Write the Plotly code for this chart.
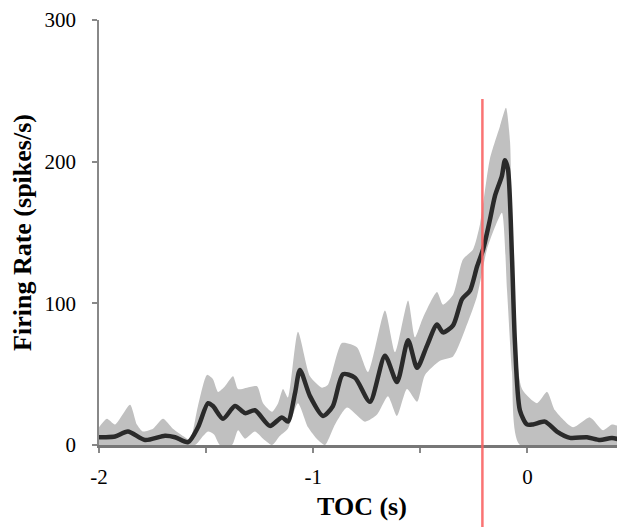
import plotly.graph_objects as go

# Mean firing rate (spikes/s) vs time to TOC (s)
mean_t = [-2.0, -1.972, -1.925, -1.865, -1.785, -1.692, -1.645, -1.584, -1.538, -1.491,
          -1.468, -1.421, -1.365, -1.318, -1.272, -1.202, -1.146, -1.118, -1.085, -1.062,
          -1.015, -0.954, -0.908, -0.861, -0.805, -0.735, -0.665, -0.609, -0.557, -0.515,
          -0.469, -0.422, -0.394, -0.347, -0.305, -0.268, -0.235, -0.207, -0.175, -0.151,
          -0.119, -0.105, -0.091, -0.072, -0.058, -0.035, -0.002, 0.026, 0.082, 0.138,
          0.199, 0.278, 0.339, 0.395, 0.446]
mean_rate = [5.5, 5.5, 6, 9.5, 3.5, 6.5, 5.5, 2, 12.5, 29.5,
             27.5, 18.5, 27.5, 22.5, 24.5, 13.5, 19.5, 16.5, 36.5, 53,
             34.5, 20.5, 27.5, 50, 47.5, 30.5, 63, 44.5, 74, 54.5,
             70, 85, 79.5, 84.5, 103, 109, 126, 138, 159, 176,
             190, 201, 195, 133, 72, 24.5, 14.5, 14.5, 16.5, 9.5,
             5, 5.5, 3.5, 5, 3]

# Upper edge of the shaded band
upper_t = [-2.0, -1.963, -1.925, -1.855, -1.823, -1.795, -1.748, -1.701, -1.655, -1.599,
           -1.575, -1.538, -1.496, -1.468, -1.444, -1.412, -1.374, -1.351, -1.309, -1.262,
           -1.234, -1.192, -1.164, -1.141, -1.118, -1.071, -1.015, -0.959, -0.931, -0.866,
           -0.796, -0.744, -0.665, -0.618, -0.557, -0.525, -0.487, -0.422, -0.394, -0.347,
           -0.301, -0.254, -0.221, -0.175, -0.128, -0.100, -0.081, -0.067, -0.025, 0.045,
           0.092, 0.129, 0.213, 0.292, 0.353, 0.395, 0.446]
upper_rate = [12.5, 18.5, 14.5, 28.5, 14.5, 9.5, 11.5, 18.5, 11.5, 5.5,
              3.5, 27.5, 49.5, 46.5, 37.5, 41.5, 48.5, 39.5, 40.5, 41.5,
              29.5, 23.5, 29.5, 39.5, 33.5, 80, 48.5, 40.5, 42.5, 72,
              69, 51.5, 95, 65.5, 102, 76, 90, 108, 99, 106,
              131, 138, 156, 202, 225, 238, 214, 109, 39.5, 29.5,
              37.5, 24.5, 12.5, 19.5, 10.5, 14.5, 11.5]

# Lower edge of the shaded band
lower_t = [-2.0, -1.552, -1.519, -1.491, -1.463, -1.435, -1.379, -1.351, -1.318, -1.272,
           -1.234, -1.192, -1.155, -1.118, -1.071, -1.024, -0.978, -0.945, -0.898, -0.842,
           -0.758, -0.702, -0.651, -0.609, -0.562, -0.515, -0.478, -0.408, -0.347, -0.282,
           -0.235, -0.189, -0.151, -0.119, -0.095, -0.072, -0.035, 0.446]
lower_rate = [0, 0, 5.5, 9.5, 7.5, 0, 0, 10.5, 4.5, 9.5,
              4.5, 0, 6.5, 11.5, 29.5, 12.5, 3.5, 0, 14.5, 26.5,
              16.5, 21.5, 34.5, 20.5, 39.5, 30.5, 49.5, 59.5, 62.5, 85,
              105, 138, 154, 164, 109, 51.5, 0, 0]

marker_time = -0.21
x_tickvals = [-2, -1.5, -1, -0.5, 0]
x_ticktext = ["-2", "", "-1", "", "0"]
y_tickvals = [0, 100, 200, 300]

serif = "Liberation Serif, Times New Roman, serif"

fig = go.Figure()

fig.add_trace(go.Scatter(
    x=upper_t + lower_t[::-1],
    y=upper_rate + lower_rate[::-1],
    fill="toself",
    fillcolor="rgb(192,192,192)",
    line=dict(width=0, shape="spline", smoothing=0.6),
    mode="lines",
    hoverinfo="skip",
    showlegend=False,
))

fig.add_trace(go.Scatter(
    x=mean_t, y=mean_rate,
    mode="lines",
    line=dict(color="#2a2a2a", width=4.5, shape="spline", smoothing=0.7),
    showlegend=False,
))

fig.add_shape(
    type="line", xref="x", yref="paper",
    x0=marker_time, x1=marker_time, y0=-0.21, y1=0.814,
    line=dict(color="rgba(250,100,100,0.9)", width=2.5),
    layer="above",
)

fig.update_layout(
    width=617, height=519,
    margin=dict(l=91, r=0, t=12, b=82),
    paper_bgcolor="white", plot_bgcolor="white",
    font=dict(family=serif, color="black"),
    showlegend=False,
)

fig.update_xaxes(
    range=[-2, 0.4557], automargin=False,
    tickvals=x_tickvals, ticktext=x_ticktext,
    ticks="outside", ticklen=5, tickcolor="#888", tickwidth=1.5,
    showline=True, linecolor="#777", linewidth=2.5,
    showgrid=False, zeroline=False,
    tickfont=dict(size=21, family=serif),
    ticklabelstandoff=6,
    title=dict(text="<b>TOC (s)</b>", font=dict(size=26, family=serif), standoff=9),
)

fig.update_yaxes(
    range=[0, 300], automargin=False,
    tickvals=y_tickvals,
    ticks="outside", ticklen=5, tickcolor="#888", tickwidth=1.5,
    showline=True, linecolor="#888", linewidth=1.5,
    showgrid=False, zeroline=False,
    tickfont=dict(size=21, family=serif),
    ticklabelstandoff=12, ticklabeloverflow="allow",
    title=dict(text="<b>Firing Rate (spikes/s)</b>", font=dict(size=26, family=serif), standoff=10),
)

fig.write_html("out.html")
